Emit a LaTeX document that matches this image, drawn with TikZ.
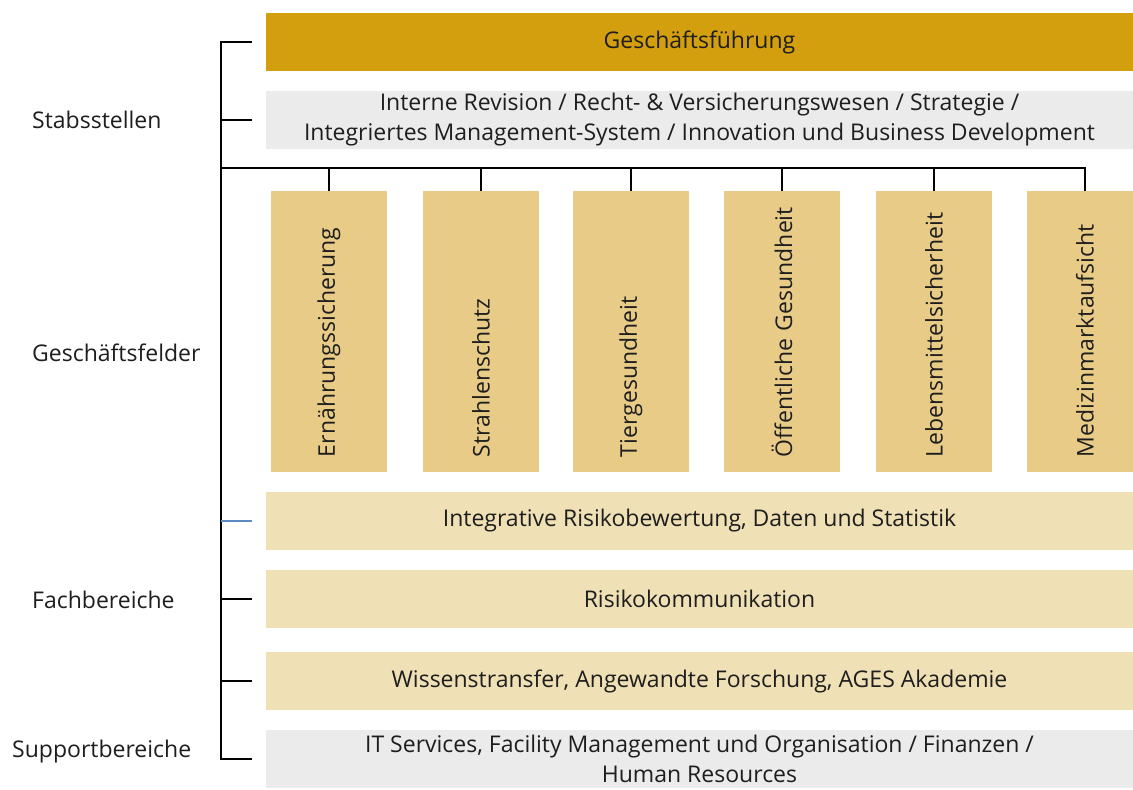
\documentclass[tikz,border=0pt]{standalone}
\usepackage{fontspec}
\setmainfont{Open Sans}
\usetikzlibrary{calc}
\definecolor{gfgold}{HTML}{D49F0E}
\definecolor{feldgold}{HTML}{E8CB86}
\definecolor{fachgold}{HTML}{F0E0B5}
\definecolor{stabgrau}{HTML}{EBEBEB}
\definecolor{stubblau}{HTML}{5B8BC4}
\definecolor{schrift}{HTML}{1E1E1E}
\begin{document}
\begin{tikzpicture}[x=1pt,y=-1pt,
	every node/.style={font=\fontsize{23}{30}\selectfont,text=schrift},
	bar/.style={minimum width=867pt,minimum height=58pt,inner sep=0pt,align=center},
	feld/.style={rotate=90,fill=feldgold,minimum width=281pt,minimum height=116pt,
		text width=251pt,inner xsep=15pt,inner ysep=0pt,align=left},
	lbl/.style={anchor=west,inner sep=0pt},
	verb/.style={line width=1.4pt,draw=black}]
	\clip (0,0) rectangle (1133,790);
	\fill[white] (0,0) rectangle (1133,790);
	% Leitung und Stabsstellen
	\node[bar,fill=gfgold] (gf) at (699.5,42) {Geschäftsführung};
	\node[bar,fill=stabgrau] (stab) at (699.5,120) {Interne Revision / Recht- \& Versicherungswesen / Strategie /\\Integriertes Management-System / Innovation und Business Development};
	% Geschaeftsfelder
	\node[feld] (f1) at (329,331.5) {Ernährungssicherung};
	\node[feld] (f2) at (481,331.5) {Strahlenschutz};
	\node[feld] (f3) at (631,331.5) {Tiergesundheit};
	\node[feld] (f4) at (782,331.5) {Öffentliche Gesundheit};
	\node[feld] (f5) at (934,331.5) {Lebensmittelsicherheit};
	\node[feld] (f6) at (1085,331.5) {Medizinmarktaufsicht};
	% Fachbereiche und Support
	\node[bar,fill=fachgold] (fb1) at (699.5,521) {Integrative Risikobewertung, Daten und Statistik};
	\node[bar,fill=fachgold] (fb2) at (699.5,599) {Risikokommunikation};
	\node[bar,fill=fachgold] (fb3) at (699.5,681) {Wissenstransfer, Angewandte Forschung, AGES Akademie};
	\node[bar,fill=stabgrau] (sup) at (699.5,759) {IT Services, Facility Management und Organisation / Finanzen /\\Human Resources};
	% Bereichsnamen
	\node[lbl] (l1) at (32,120) {Stabsstellen};
	\node[lbl] (l2) at (32,353) {Geschäftsfelder};
	\node[lbl] (l3) at (32,600) {Fachbereiche};
	\node[lbl] (l4) at (12,752) {Supportbereiche};
	% Linien
	\coordinate (bus) at (221,0);
	\coordinate (hl) at (221,168);
	\draw[verb] ([xshift=-14pt]gf.west) -- (gf.west -| bus) -- (sup.west -| bus) -- ([xshift=-14pt]sup.west);
	\draw[verb] (stab.west -| bus) -- ([xshift=-14pt]stab.west);
	\draw[verb] (hl) -- (f6.east |- hl) -- (f6.east);
	\foreach \f in {f1,f2,f3,f4,f5}
		\draw[verb] (\f.east |- hl) -- (\f.east);
	\draw[verb,draw=stubblau] (fb1.west -| bus) -- ([xshift=-14pt]fb1.west);
	\draw[verb] (fb2.west -| bus) -- ([xshift=-14pt]fb2.west);
	\draw[verb] (fb3.west -| bus) -- ([xshift=-14pt]fb3.west);
\end{tikzpicture}
\end{document}
